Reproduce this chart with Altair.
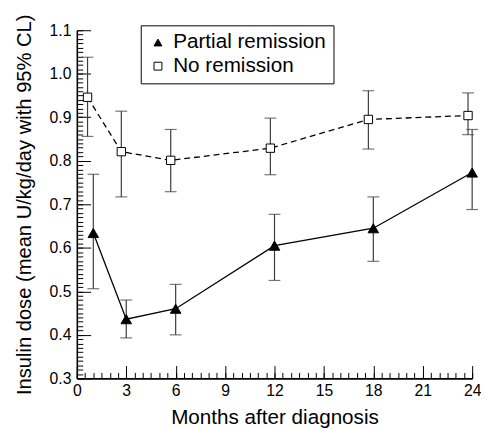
import altair as alt
import pandas as pd

# ---- data ----
series_names = ["Partial remission", "No remission"]

partial_x = [1, 3, 6, 12, 18, 24]
partial_mean = [0.634, 0.436, 0.460, 0.605, 0.645, 0.773]
partial_lo = [0.506, 0.393, 0.400, 0.525, 0.569, 0.688]
partial_hi = [0.769, 0.480, 0.516, 0.677, 0.717, 0.872]

none_x = [0.65, 2.7, 5.7, 11.75, 17.7, 23.75]
none_mean = [0.946, 0.821, 0.801, 0.829, 0.895, 0.904]
none_lo = [0.856, 0.717, 0.729, 0.768, 0.827, 0.860]
none_hi = [1.038, 0.914, 0.872, 0.898, 0.961, 0.956]

x_ticks = [0, 3, 6, 9, 12, 15, 18, 21, 24]
y_ticks = [0.3, 0.4, 0.5, 0.6, 0.7, 0.8, 0.9, 1.0, 1.1]
x_minor = [i * 0.5 for i in range(49)]
y_minor = [round(0.3 + 0.01 * i, 2) for i in range(81)]

rows = []
for x, m, lo, hi in zip(partial_x, partial_mean, partial_lo, partial_hi):
    rows.append(dict(series=series_names[0], x=x, y=m, lo=lo, hi=hi))
for x, m, lo, hi in zip(none_x, none_mean, none_lo, none_hi):
    rows.append(dict(series=series_names[1], x=x, y=m, lo=lo, hi=hi))
df = pd.DataFrame(rows)

FONT = "Liberation Sans"
xs = alt.Scale(domain=[0, 24], nice=False, zero=False)
ys = alt.Scale(domain=[0.3, 1.1], nice=False, zero=False)

base = alt.Chart(df)
ERR = "#3c3c3c"


def X(axis=None):
    return alt.X("x:Q", scale=xs, axis=axis)


def Y(field="y", axis=None):
    return alt.Y(f"{field}:Q", scale=ys, axis=axis)


err = base.mark_rule(color=ERR, strokeWidth=1.2).encode(
    x=X(), y=Y("lo"), y2="hi:Q"
)
cap_lo = base.mark_tick(orient="horizontal", size=12, thickness=1.2, color=ERR).encode(
    x=X(), y=Y("lo")
)
cap_hi = base.mark_tick(orient="horizontal", size=12, thickness=1.2, color=ERR).encode(
    x=X(), y=Y("hi")
)
line_p = base.transform_filter(alt.datum.series == series_names[0]).mark_line(
    color="black", strokeWidth=1.3
).encode(x=X(), y=Y())
line_n = base.transform_filter(alt.datum.series == series_names[1]).mark_line(
    color="black", strokeWidth=1.3, strokeDash=[6, 4]
).encode(x=X(), y=Y())

legend = alt.Legend(
    title=None, orient="none", legendX=65, legendY=-5,
    strokeColor="black", fillColor="white", padding=7,
    labelFontSize=21, labelFont=FONT, labelColor="black",
    symbolSize=64, symbolStrokeWidth=1,
    rowPadding=2, labelOffset=5,
)
shape_scale = alt.Scale(domain=series_names, range=["triangle-up", "square"])
fill_scale = alt.Scale(domain=series_names, range=["black", "white"])
stroke_scale = alt.Scale(domain=series_names, range=["black", "black"])


def points(name, size):
    return base.transform_filter(alt.datum.series == name).mark_point(
        strokeWidth=1, opacity=1, fillOpacity=1, size=size
    ).encode(
        x=X(), y=Y(),
        shape=alt.Shape("series:N", scale=shape_scale, legend=legend),
        fill=alt.Fill("series:N", scale=fill_scale, legend=legend),
        stroke=alt.Stroke("series:N", scale=stroke_scale, legend=legend),
    )


pts_p = points(series_names[0], 115)
pts_n = points(series_names[1], 72)

common = dict(grid=False, labelFont=FONT, titleFont=FONT, tickColor="black", tickWidth=1)

ax1 = base.mark_point(opacity=0).encode(
    x=X(alt.Axis(orient="bottom", values=x_ticks, ticks=False, domain=True, domainColor="black",
                 domainWidth=1.6, title="Months after diagnosis", titleFontSize=21,
                 titleFontWeight="normal", titleColor="black", titleBaseline="alphabetic", titleY=46,
                 labelFontSize=16, labelColor="black", labelPadding=4, labelFlush=False,
                 labelOverlap=False, **common)),
    y=Y("y", alt.Axis(orient="left", values=y_ticks, format=".1f", ticks=False, domain=True,
                      domainColor="black", domainWidth=1.6,
                      title="Insulin dose (mean U/kg/day with 95% CL)", titleFontSize=20.5,
                      titleFontWeight="normal", titleColor="black", titleBaseline="alphabetic",
                      titleX=-47, titleAngle=270,
                      labelFontSize=16, labelColor="black", labelPadding=6, labelFlush=False,
                      labelOverlap=False, **common)),
)
ax2 = base.mark_point(opacity=0).encode(
    x=X(alt.Axis(orient="bottom", values=x_ticks, labels=False, domain=False, ticks=True,
                 tickSize=13, offset=-13, title=None, **common)),
    y=Y("y", alt.Axis(orient="left", values=y_ticks, labels=False, domain=False, ticks=True,
                      tickSize=14, offset=-14, title=None, **common)),
)
ax3 = base.mark_point(opacity=0).encode(
    x=X(alt.Axis(orient="bottom", values=x_minor, labels=False, domain=False, ticks=True,
                 tickSize=6, offset=-6, title=None, **common)),
    y=Y("y", alt.Axis(orient="left", values=y_minor, labels=False, domain=False, ticks=True,
                      tickSize=6, offset=-6, title=None, **common)),
)

chart = alt.layer(ax3, ax2, ax1, err, cap_lo, cap_hi, line_n, line_p, pts_p, pts_n).resolve_axis(
    x="independent", y="independent"
).properties(
    width=402, height=354,
    background="white",
    autosize=alt.AutoSizeParams(type="none"),
    padding={"left": 70, "top": 19, "right": 9, "bottom": 56},
).configure_view(
    stroke=None
).configure_legend(
    strokeColor="black", strokeWidth=1, fillColor="white",
    symbolBaseStrokeColor="black", symbolStrokeColor="black",
)

chart.save("out.html", embed_options={"renderer": "svg", "actions": False})
